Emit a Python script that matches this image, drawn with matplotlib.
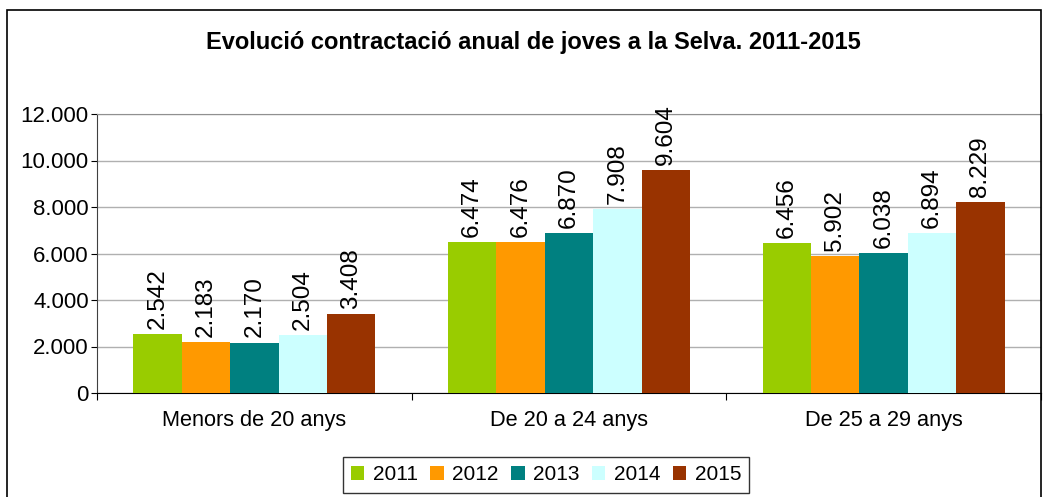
import numpy as np
import matplotlib.pyplot as plt
from matplotlib.patches import Rectangle
from matplotlib.ticker import FuncFormatter

plt.rcParams['font.family'] = ['Liberation Sans', 'DejaVu Sans']

categories = ["Menors de 20 anys", "De 20 a 24 anys", "De 25 a 29 anys"]
years = ["2011", "2012", "2013", "2014", "2015"]
values = {
    "2011": [2542, 6474, 6456],
    "2012": [2183, 6476, 5902],
    "2013": [2170, 6870, 6038],
    "2014": [2504, 7908, 6894],
    "2015": [3408, 9604, 8229],
}
colors = ["#99CC00", "#FF9900", "#008080", "#CCFFFF", "#993300"]

def fmt(v):
    return f"{int(v):,}".replace(",", ".")

fig = plt.figure(figsize=(10.43, 4.97), dpi=100)
ax = fig.add_axes([97 / 1043, 1 - 393 / 497, (1041 - 97) / 1043, (393 - 114) / 497])

# outer chart frame
fig.patches.append(Rectangle((7 / 1043, -0.1), (1041 - 7) / 1043, 1.1 - 10 / 497,
                             transform=fig.transFigure, fill=False,
                             edgecolor="black", linewidth=1.2))

x = np.arange(len(categories))
w = 1 / 6.5
for i, yr in enumerate(years):
    pos = x + (i - 2) * w
    bars = ax.bar(pos, values[yr], w, color=colors[i], label=yr, zorder=3)
    for b, v in zip(bars, values[yr]):
        ax.text(b.get_x() + b.get_width() / 2, v + 220, fmt(v), rotation=90,
                ha="center", va="bottom", fontsize=17.5, zorder=4)

ax.set_xlim(-0.5, 2.5)
ax.set_ylim(0, 12000)
ax.set_yticks(np.arange(0, 12001, 2000))
ax.yaxis.set_major_formatter(FuncFormatter(lambda v, p: fmt(v)))
ax.grid(axis="y", color="#b0b0b0", linewidth=1, zorder=0)

ax.set_xticks([-0.5, 0.5, 1.5, 2.5])
ax.set_xticklabels([])
ax.set_xticks(x, minor=True)
ax.set_xticklabels(categories, minor=True, fontsize=15.7)
ax.tick_params(axis="x", which="minor", length=0, pad=12)
ax.tick_params(axis="x", which="major", length=5, direction="out", color="black")
ax.tick_params(axis="y", labelsize=16, length=4, direction="out", pad=2)

ax.spines["top"].set_color("#909090")
ax.spines["right"].set_color("#909090")
ax.spines["left"].set_color("#404040")
ax.spines["bottom"].set_color("black")

fig.text(533 / 1043, 1 - 43 / 497, "Evolució contractació anual de joves a la Selva. 2011-2015",
         ha="center", va="center", fontsize=17, fontweight="bold")

leg = ax.legend(loc="center", bbox_to_anchor=(546 / 1043, 1 - 475 / 497),
                bbox_transform=fig.transFigure, ncol=5, fontsize=15,
                frameon=True, fancybox=False, edgecolor="black",
                handlelength=0.65, handleheight=0.65, handletextpad=0.4,
                columnspacing=0.6, borderpad=0.4)
leg.get_frame().set_linewidth(1)

fig.savefig("out.png", dpi=100)
